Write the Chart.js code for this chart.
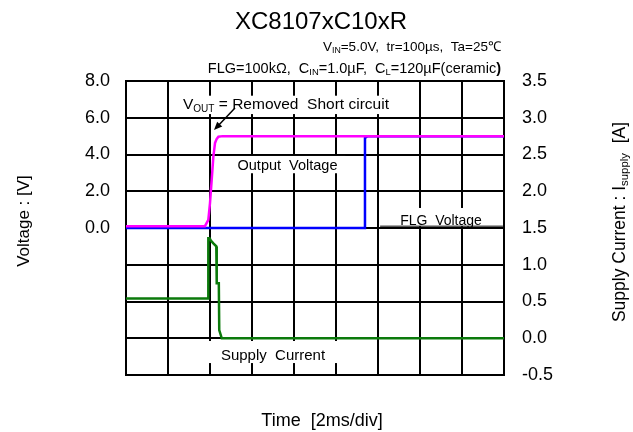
<!DOCTYPE html>
<html lang="en">
<head>
    <meta charset="UTF-8">
    <title>XC8107xC10xR</title>
    <script src="https://cdn.jsdelivr.net/npm/chart.js@4.4.0/dist/chart.umd.min.js"></script>
    <style>
        html, body { margin: 0; padding: 0; background: #fff; }
    </style>
</head>
<body>
    <canvas id="scopeChart" width="633" height="432"></canvas>
    <script>
        // axis ticks
        const timeTicks = [0, 2, 4, 6, 8, 10, 12, 14, 16, 18];
        const voltTicks = [-8, -6, -4, -2, 0, 2, 4, 6, 8];
        const currentTicks = [-0.5, 0, 0.5, 1.0, 1.5, 2.0, 2.5, 3.0, 3.5];

        // Output Voltage [V] vs time [ms]
        const outTime = [0, 3.76, 3.92, 4.0, 4.08, 4.16, 4.24, 4.32, 4.4, 4.6, 18];
        const outVolt = [0.1, 0.1, 0.44, 1.36, 2.61, 3.88, 4.63, 4.85, 4.97, 5.0, 5.0];

        // FLG Voltage [V]
        const flgTime = [0, 11.38, 11.38, 11.5, 18];
        const flgVolt = [0, 0, 4.9, 5.0, 5.0];

        // Supply Current [A]
        const curTime = [0, 3.92, 3.92, 3.98, 4.04, 4.16, 4.3, 4.32, 4.42, 4.44, 4.56, 18];
        const curAmp = [0.54, 0.54, 1.36, 1.36, 1.33, 1.29, 1.25, 0.75, 0.75, 0.11, 0.0, 0.0];

        const FONT = '"Liberation Sans", Arial, sans-serif';

        function toPoints(xs, ys) {
            return xs.map((x, i) => ({ x: x, y: ys[i] }));
        }

        function fontFor(kind, size) {
            if (kind === 'sub') return (size * 0.65) + 'px ' + FONT;
            if (kind === 'bold') return 'bold ' + size + 'px ' + FONT;
            return size + 'px ' + FONT;
        }

        // draws text with subscripts, parts = [[text, kind], ...]
        function drawRich(ctx, parts, x, y, size, align) {
            const widths = parts.map(p => {
                ctx.font = fontFor(p[1], size);
                return ctx.measureText(p[0]).width;
            });
            const total = widths.reduce((a, b) => a + b, 0);
            let cx = x;
            if (align === 'right') cx = x - total;
            if (align === 'center') cx = x - total / 2;
            ctx.textAlign = 'left';
            ctx.textBaseline = 'middle';
            parts.forEach((p, i) => {
                ctx.font = fontFor(p[1], size);
                ctx.fillText(p[0], cx, p[1] === 'sub' ? y + size * 0.25 : y);
                cx += widths[i];
            });
        }

        const labelPlugin = {
            id: 'labels',
            beforeDatasetsDraw(chart) {
                const ctx = chart.ctx;
                const xs = chart.scales.x;
                const ys = chart.scales.y;
                const px = v => xs.getPixelForValue(v);
                const py = v => ys.getPixelForValue(v);

                ctx.save();
                // white boxes behind the notes
                ctx.fillStyle = '#fff';
                const boxes = [
                    [2.5, 7.2, 12.9, 6.2],
                    [4.95, 3.92, 10.45, 2.98],
                    [12.1, 1.09, 17.95, 0.1],
                    [3.29, -6.15, 10.67, -7.35]
                ];
                boxes.forEach(b => {
                    ctx.fillRect(px(b[0]), py(b[1]), px(b[2]) - px(b[0]), py(b[3]) - py(b[1]));
                });
                ctx.strokeStyle = '#000';
                ctx.lineWidth = 1;
                ctx.beginPath();
                ctx.moveTo(px(12.1), py(0.1));
                ctx.lineTo(px(17.95), py(0.1));
                ctx.stroke();

                ctx.fillStyle = '#000';
                drawRich(ctx, [['V', ''], ['OUT', 'sub'], [' = Removed  Short circuit', '']], px(2.71), py(6.69), 15.5, 'left');
                drawRich(ctx, [['Output  Voltage', '']], px(7.69), py(3.37), 14.5, 'center');
                drawRich(ctx, [['FLG  Voltage', '']], px(15.0), py(0.4), 14, 'center');
                drawRich(ctx, [['Supply  Current', '']], px(7.0), py(-6.97), 15, 'center');

                // arrow to the step
                const x0 = px(5.19), y0 = py(6.53), x1 = px(4.19), y1 = py(5.33);
                const ang = Math.atan2(y1 - y0, x1 - x0);
                ctx.lineWidth = 1.5;
                ctx.beginPath();
                ctx.moveTo(x0, y0);
                ctx.lineTo(x1 - 6 * Math.cos(ang), y1 - 6 * Math.sin(ang));
                ctx.stroke();
                ctx.beginPath();
                ctx.moveTo(x1, y1);
                ctx.lineTo(x1 - 9 * Math.cos(ang - 0.4), y1 - 9 * Math.sin(ang - 0.4));
                ctx.lineTo(x1 - 9 * Math.cos(ang + 0.4), y1 - 9 * Math.sin(ang + 0.4));
                ctx.closePath();
                ctx.fill();
                ctx.restore();
            },
            afterDraw(chart) {
                const ctx = chart.ctx;
                const area = chart.chartArea;
                ctx.save();
                ctx.fillStyle = '#000';
                drawRich(ctx, [['XC8107xC10xR', '']], 321, 22, 24, 'center');
                drawRich(ctx, [['V', ''], ['IN', 'sub'], ['=5.0V,  tr=100\u00b5s,  Ta=25\u2103', '']], 501, 47, 13.5, 'right');
                drawRich(ctx, [['FLG=100k\u03a9,  C', ''], ['IN', 'sub'], ['=1.0\u00b5F,  C', ''], ['L', 'sub'],
                    ['=120\u00b5F(ceramic', ''], [')', 'bold']], 501, 69, 14.5, 'right');

                drawRich(ctx, [['Time  [2ms/div]', '']], (area.left + area.right) / 2 + 7, 421, 18, 'center');

                ctx.translate(24, 221);
                ctx.rotate(-Math.PI / 2);
                drawRich(ctx, [['Voltage : [V]', '']], 0, 0, 17, 'center');
                ctx.rotate(Math.PI / 2);
                ctx.translate(-24, -221);

                ctx.translate(620, 222);
                ctx.rotate(-Math.PI / 2);
                drawRich(ctx, [['Supply Current : I', ''], ['supply', 'sub'], ['  [A]', '']], 0, 0, 17.5, 'center');
                ctx.restore();
            }
        };

        const ctx = document.getElementById('scopeChart').getContext('2d');
        const scopeChart = new Chart(ctx, {
            type: 'line',
            data: {
                datasets: [{
                    label: 'Output Voltage',
                    data: toPoints(outTime, outVolt),
                    yAxisID: 'y',
                    borderColor: '#ff00ff',
                    borderWidth: 2.5,
                    pointRadius: 0,
                    tension: 0
                }, {
                    label: 'FLG Voltage',
                    data: toPoints(flgTime, flgVolt),
                    yAxisID: 'y',
                    borderColor: '#0000ff',
                    borderWidth: 2.5,
                    pointRadius: 0,
                    tension: 0
                }, {
                    label: 'Supply Current',
                    data: toPoints(curTime, curAmp),
                    yAxisID: 'y2',
                    borderColor: '#0b7a0b',
                    borderWidth: 2.5,
                    pointRadius: 0,
                    tension: 0
                }]
            },
            options: {
                responsive: false,
                animation: false,
                layout: { padding: { top: 81, left: 0, right: 0, bottom: 0 } },
                plugins: {
                    legend: { display: false },
                    tooltip: { enabled: false }
                },
                scales: {
                    x: {
                        type: 'linear',
                        min: 0,
                        max: 18,
                        afterBuildTicks: axis => { axis.ticks = timeTicks.map(v => ({ value: v })); },
                        afterFit: axis => { axis.height = 57; },
                        ticks: { display: false },
                        grid: { color: '#000', lineWidth: 2, drawTicks: false },
                        border: { color: '#000', width: 2 }
                    },
                    y: {
                        position: 'left',
                        min: -8,
                        max: 8,
                        afterBuildTicks: axis => { axis.ticks = voltTicks.map(v => ({ value: v })); },
                        afterFit: axis => { axis.width = 126; },
                        ticks: {
                            padding: 16,
                            color: '#000',
                            font: { family: FONT, size: 18 },
                            callback: v => (v >= 0 ? v.toFixed(1) : '')
                        },
                        grid: { color: '#000', lineWidth: 2, drawTicks: false },
                        border: { color: '#000', width: 2 }
                    },
                    y2: {
                        position: 'right',
                        min: -0.5,
                        max: 3.5,
                        afterBuildTicks: axis => { axis.ticks = currentTicks.map(v => ({ value: v })); },
                        afterFit: axis => { axis.width = 129; },
                        ticks: {
                            padding: 18,
                            color: '#000',
                            font: { family: FONT, size: 18 },
                            callback: v => v.toFixed(1)
                        },
                        grid: { display: false, drawTicks: false },
                        border: { color: '#000', width: 2 }
                    }
                }
            },
            plugins: [labelPlugin]
        });
    </script>
</body>
</html>
